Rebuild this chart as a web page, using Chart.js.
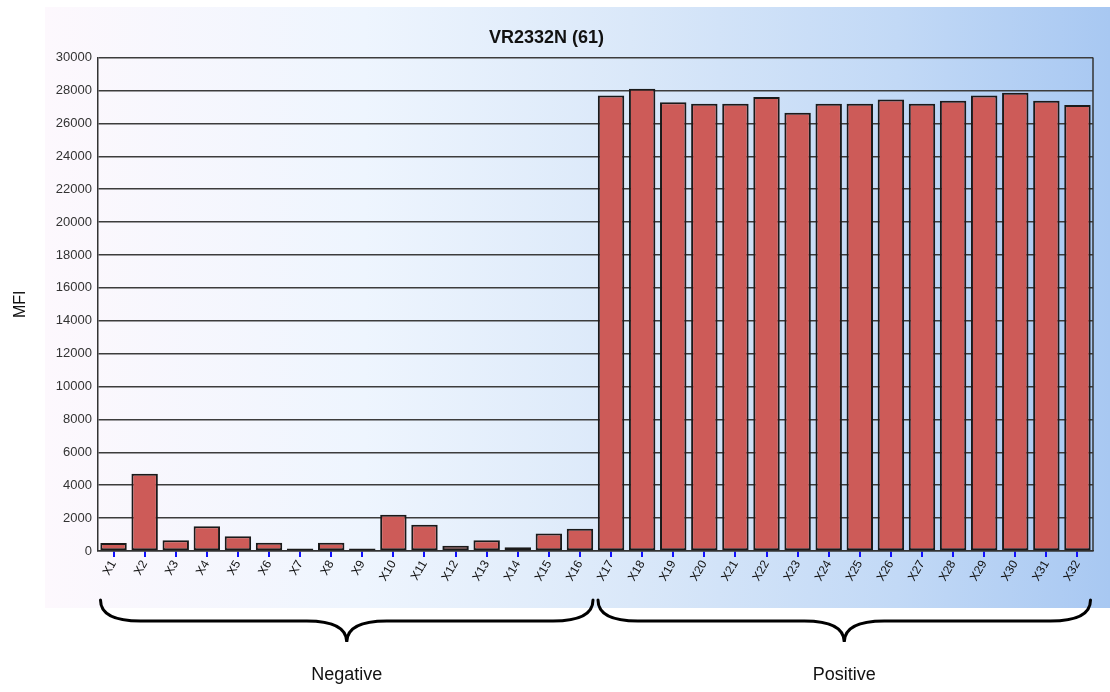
<!DOCTYPE html>
<html>
<head>
<meta charset="utf-8">
<title>VR2332N (61)</title>
<script src="https://cdn.jsdelivr.net/npm/chart.js@4"></script>
<style>
    body { margin: 0; background: #fff; }
    canvas { display: block; }
</style>
</head>
<body>
<canvas id="mfiChart" width="1110" height="692"></canvas>
<script>
// Data
const categories = ['X1', 'X2', 'X3', 'X4', 'X5', 'X6', 'X7', 'X8', 'X9', 'X10', 'X11', 'X12', 'X13', 'X14', 'X15', 'X16',
    'X17', 'X18', 'X19', 'X20', 'X21', 'X22', 'X23', 'X24', 'X25', 'X26', 'X27', 'X28', 'X29', 'X30', 'X31', 'X32'];
const mfiValues = [480, 4700, 650, 1500, 900, 500, 150, 500, 150, 2200, 1590, 320, 650, 230, 1060, 1360,
    27700, 28100, 27280, 27200, 27200, 27610, 26650, 27200, 27200, 27450, 27200, 27370, 27690, 27860, 27370, 27120];
const yTicks = [0, 30000, 2000]; // min, max, step
const groupLabels = ['Negative', 'Positive'];
const groupRanges = [[0, 15], [16, 31]];

const FONT = '"Liberation Sans", Arial, sans-serif';

// Gradient panel behind the chart
const panelBackground = {
    id: 'panelBackground',
    beforeDraw(chart) {
        const ctx = chart.ctx;
        const g = ctx.createLinearGradient(45, 0, 1110, 0);
        g.addColorStop(0, '#fdf8fd');
        g.addColorStop(0.3, '#eef5fe');
        g.addColorStop(0.55, '#dae8f9');
        g.addColorStop(0.8, '#c2d9f6');
        g.addColorStop(1, '#a8c8f2');
        ctx.save();
        ctx.fillStyle = g;
        ctx.fillRect(45, 7, 1065, 601);
        ctx.restore();
    }
};

// Plot frame + group braces under the x axis
const groupBraces = {
    id: 'groupBraces',
    afterDraw(chart) {
        const ctx = chart.ctx;
        const area = chart.chartArea;
        const x = chart.scales.x;
        const half = x.getPixelForValue(0) - area.left - 2.5;

        ctx.save();
        ctx.strokeStyle = '#333';
        ctx.lineWidth = 1.5;
        ctx.beginPath();
        ctx.moveTo(area.right, area.top);
        ctx.lineTo(area.right, area.bottom);
        ctx.stroke();

        const top = 600, mid = 621, tip = 642;
        ctx.strokeStyle = '#000';
        ctx.lineWidth = 3;
        ctx.lineCap = 'round';
        groupRanges.forEach((r, i) => {
            const x0 = x.getPixelForValue(r[0]) - half;
            const x1 = x.getPixelForValue(r[1]) + half;
            const xm = (x0 + x1) / 2;
            ctx.beginPath();
            ctx.moveTo(x0, top);
            ctx.quadraticCurveTo(x0, mid, x0 + 40, mid);
            ctx.lineTo(xm - 40, mid);
            ctx.quadraticCurveTo(xm, mid, xm, tip);
            ctx.quadraticCurveTo(xm, mid, xm + 40, mid);
            ctx.lineTo(x1 - 40, mid);
            ctx.quadraticCurveTo(x1, mid, x1, top);
            ctx.stroke();

            ctx.fillStyle = '#111';
            ctx.font = '18px ' + FONT;
            ctx.textAlign = 'center';
            ctx.textBaseline = 'middle';
            ctx.fillText(groupLabels[i], xm, 675);
        });
        ctx.restore();
    }
};

window.addEventListener('load', () => {
    const ctx = document.getElementById('mfiChart').getContext('2d');
    new Chart(ctx, {
        type: 'bar',
        data: {
            labels: categories,
            datasets: [{
                label: 'MFI',
                data: mfiValues,
                backgroundColor: '#cd5b58',
                borderColor: '#1a1a1a',
                borderWidth: 2,
                borderSkipped: false,
                barPercentage: 0.85,
                categoryPercentage: 1
            }]
        },
        options: {
            responsive: false,
            animation: false,
            layout: { padding: { left: 0, right: 17, top: 0, bottom: 0 } },
            plugins: {
                legend: { display: false },
                tooltip: { enabled: false },
                title: {
                    display: true,
                    text: 'VR2332N (61)',
                    color: '#111',
                    font: { family: FONT, size: 18, weight: 'bold' },
                    padding: { top: 27, bottom: 9 }
                }
            },
            scales: {
                x: {
                    afterFit(scale) { scale.height = 141; },
                    grid: {
                        offset: false,
                        drawOnChartArea: false,
                        color: '#1010ff',
                        lineWidth: 2,
                        tickLength: 6
                    },
                    border: { color: '#333', width: 1.5 },
                    ticks: {
                        autoSkip: false,
                        maxRotation: 60,
                        minRotation: 60,
                        padding: 1,
                        color: '#111',
                        font: { family: FONT, size: 12 }
                    }
                },
                y: {
                    min: yTicks[0],
                    max: yTicks[1],
                    afterFit(scale) { scale.width = 98; },
                    grid: {
                        color: '#3c3c3c',
                        lineWidth: 1.5,
                        drawTicks: false
                    },
                    border: { color: '#333', width: 1.5 },
                    ticks: {
                        stepSize: yTicks[2],
                        padding: 6,
                        color: '#333',
                        font: { family: FONT, size: 13 },
                        callback: (v) => String(v)
                    },
                    title: {
                        display: true,
                        text: 'MFI',
                        color: '#111',
                        padding: { top: 11, bottom: 0 },
                        font: { family: FONT, size: 16 }
                    }
                }
            }
        },
        plugins: [panelBackground, groupBraces]
    });
});
</script>
</body>
</html>
